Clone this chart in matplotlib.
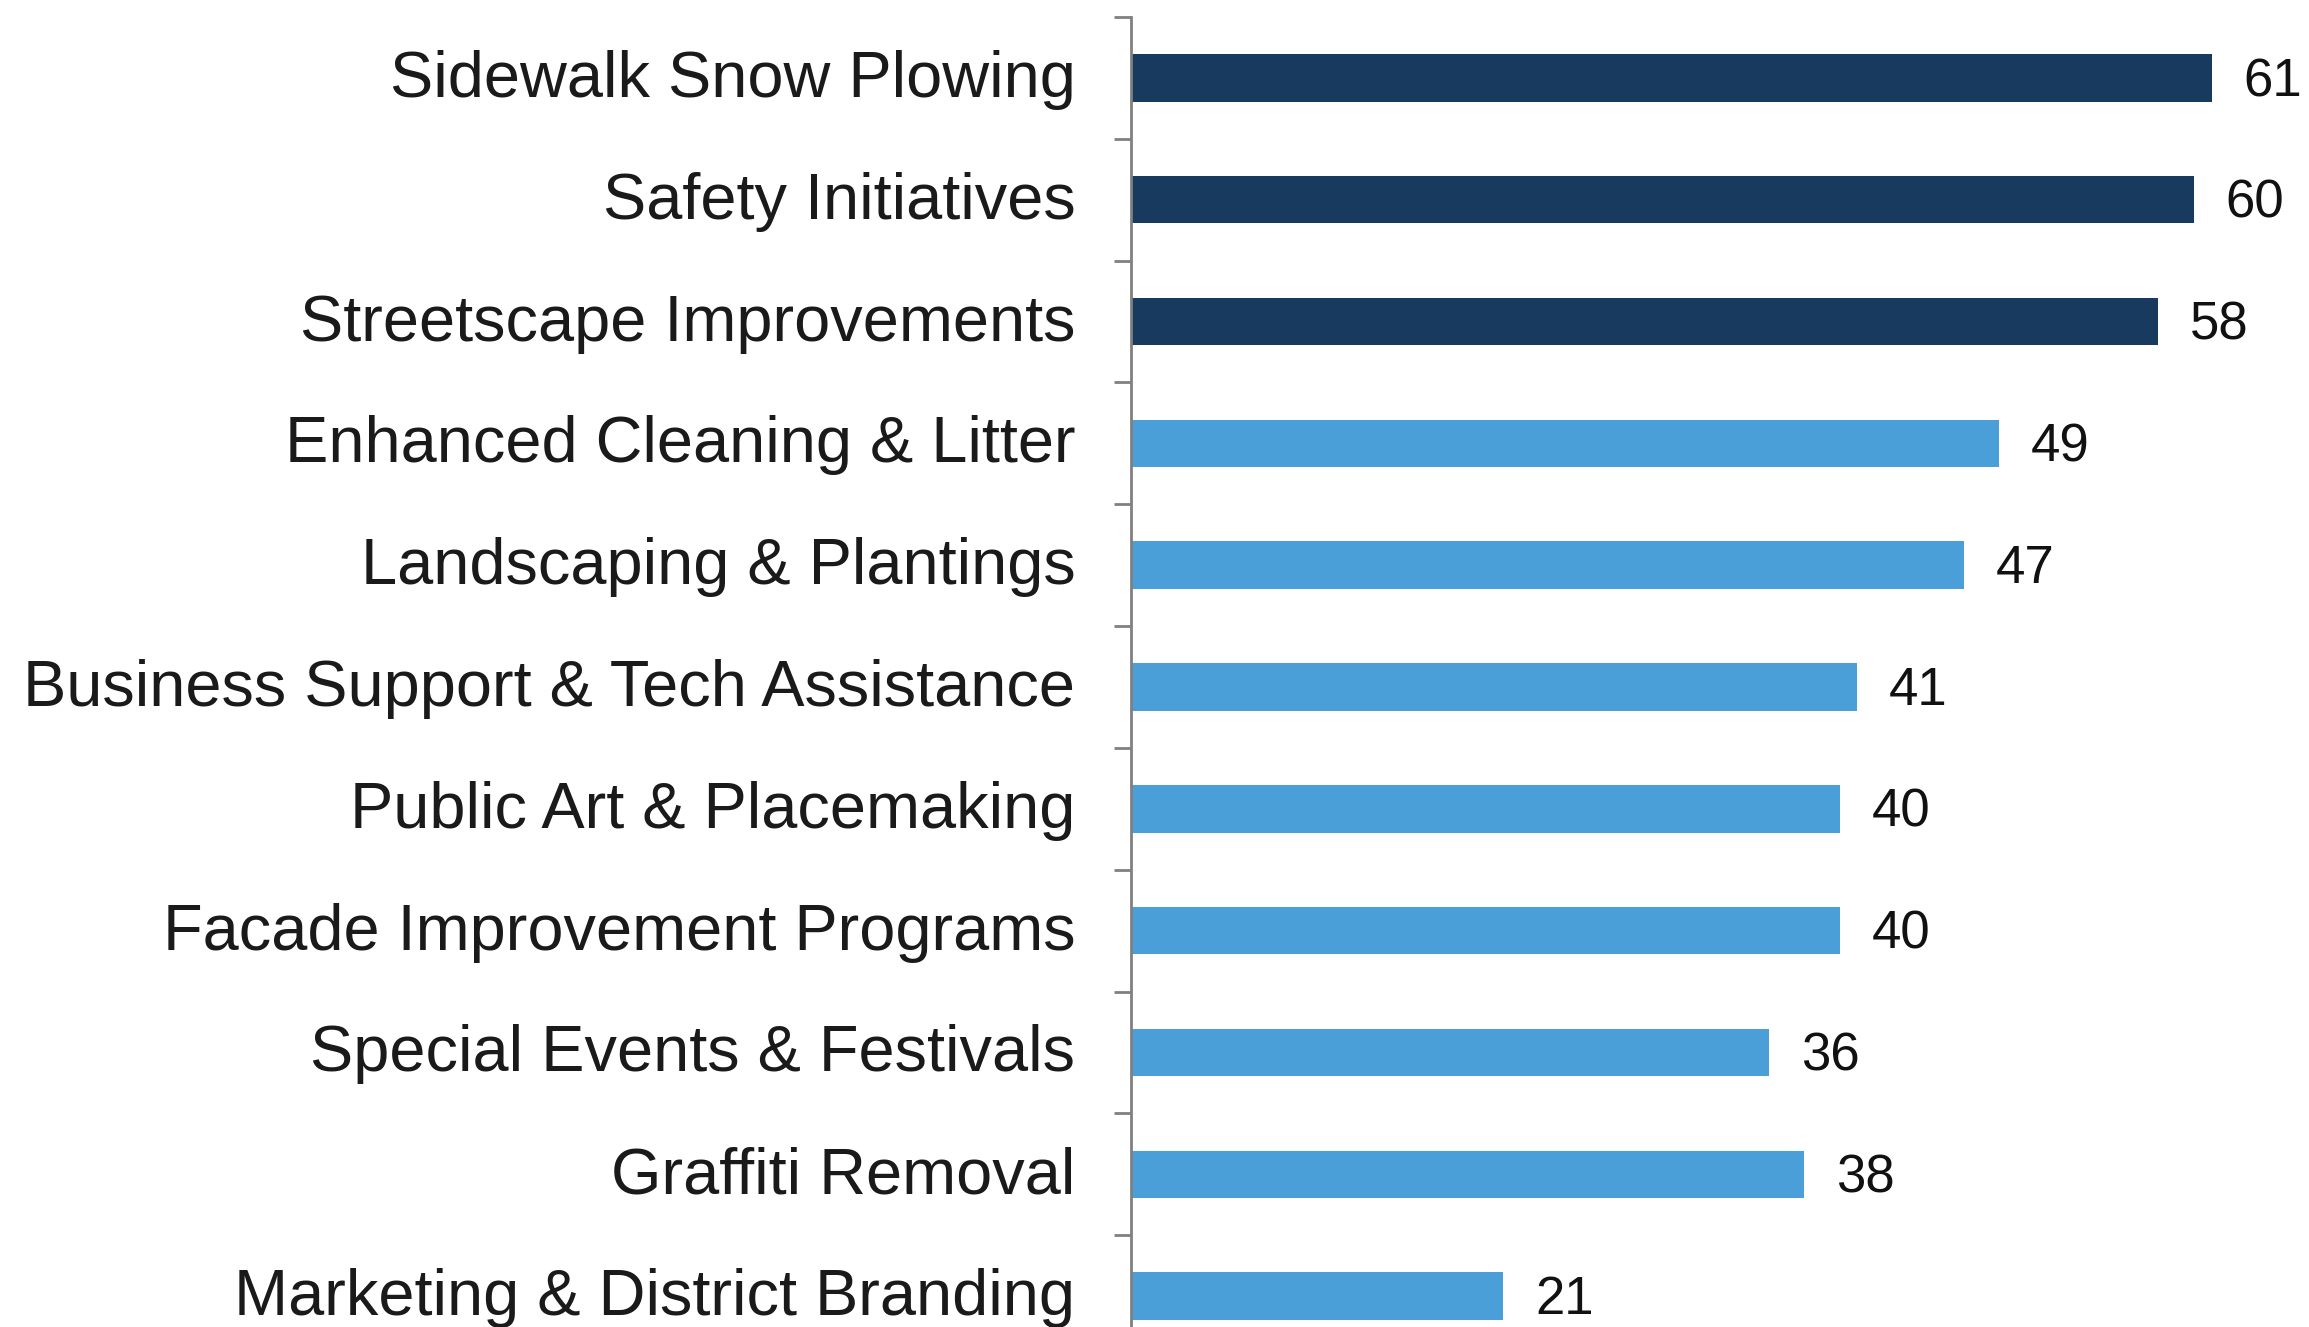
import numpy as np
import matplotlib.pyplot as plt
import matplotlib.transforms as mtransforms

plt.rcParams['font.family'] = ['Liberation Sans', 'DejaVu Sans']

categories = [
    'Sidewalk Snow Plowing',
    'Safety Initiatives',
    'Streetscape Improvements',
    'Enhanced Cleaning & Litter',
    'Landscaping & Plantings',
    'Business Support & Tech Assistance',
    'Public Art & Placemaking',
    'Facade Improvement Programs',
    'Special Events & Festivals',
    'Graffiti Removal',
    'Marketing & District Branding',
]
values = [61, 60, 58, 49, 47, 41, 40, 40, 36, 38, 21]
n_top = 3  # highlighted in dark navy

dark = '#173a5e'
light = '#4b9fd9'
colors = [dark if i < n_top else light for i in range(len(values))]

fig = plt.figure(figsize=(23.09, 13.27), dpi=100)
# axes runs off the bottom and right of the figure, like the cropped original
ax = fig.add_axes([0.4898, -0.0226, 0.5102, 1.0098])

y = np.arange(len(categories))
ax.barh(y, values, height=0.39, color=colors)

ax.set_xlim(0, 66.5)
ax.set_ylim(len(categories) - 0.5, -0.5)

for s in ['top', 'right', 'bottom']:
    ax.spines[s].set_visible(False)
ax.spines['left'].set_color('#808080')
ax.spines['left'].set_linewidth(2)
ax.set_xticks([])

# labels at bar centres, tick marks between bars
ax.set_yticks(y)
ax.set_yticklabels(categories, fontsize=46.7, color='#1a1a1a')
ax.tick_params(axis='y', which='major', length=0, pad=40)
ax.set_yticks(np.arange(-0.5, len(categories)), minor=True)
ax.tick_params(axis='y', which='minor', length=12, width=2, color='#808080')

up = mtransforms.ScaledTranslation(0, 0.045, fig.dpi_scale_trans)
for lab in ax.get_yticklabels():
    lab.set_transform(lab.get_transform() + up)

for yi, v in zip(y, values):
    ax.annotate(str(v), (v, yi), xytext=(23, -3), textcoords='offset points',
                va='center', ha='left', fontsize=38, color='#111111')

fig.savefig('out.png', dpi=100)
